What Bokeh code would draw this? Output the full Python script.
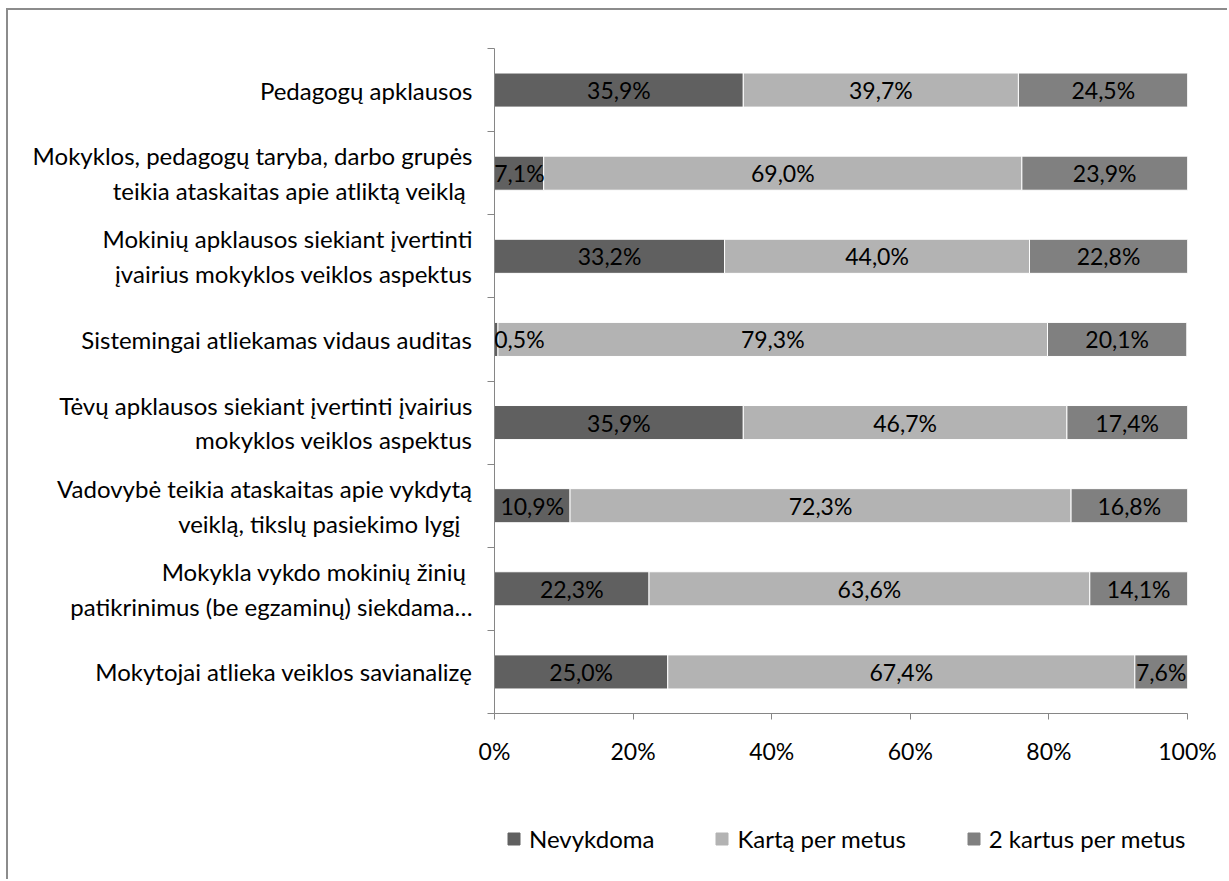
from bokeh.plotting import figure
from bokeh.models import ColumnDataSource, FixedTicker, Range1d, Legend
from bokeh.layouts import column
from bokeh.core.properties import value
from bokeh.embed import file_html
from bokeh.resources import INLINE
import numpy as np

categories = [
    "Pedagogų apklausos",
    "Mokyklos, pedagogų taryba, darbo grupės\nteikia  ataskaitas apie atliktą veiklą",
    "Mokinių apklausos siekiant įvertinti\nįvairius mokyklos veiklos aspektus",
    "Sistemingai atliekamas vidaus auditas",
    "Tėvų apklausos siekiant įvertinti įvairius\nmokyklos veiklos aspektus",
    "Vadovybė teikia ataskaitas apie vykdytą\nveiklą,  tikslų pasiekimo  lygį",
    "Mokykla  vykdo mokinių žinių\npatikrinimus (be egzaminų) siekdama…",
    "Mokytojai atlieka veiklos savianalizę",
]
series_names = ["Nevykdoma", "Kartą per metus", "2 kartus per metus"]
nevykdoma = [35.9, 7.1, 33.2, 0.5, 35.9, 10.9, 22.3, 25.0]
karta = [39.7, 69.0, 44.0, 79.3, 46.7, 72.3, 63.6, 67.4]
du_kartus = [24.5, 23.9, 22.8, 20.1, 17.4, 16.8, 14.1, 7.6]
x_ticks = [0, 20, 40, 60, 80, 100]
x_tick_labels = ["0%", "20%", "40%", "60%", "80%", "100%"]

colors = ["#606060", "#b3b3b3", "#808080"]
FONT = "Lato"
FS = "24px"
FS_NUM = "23px"

n = len(categories)
ypos = [i + 0.5 for i in range(n)]

src = ColumnDataSource(dict(y=ypos, nev=nevykdoma, kar=karta, du=du_kartus))

p = figure(width=1219, height=763, output_backend="svg", toolbar_location=None,
           x_range=Range1d(0, 100), y_range=Range1d(n, 0))
p.min_border_left = 486
p.min_border_right = 40
p.min_border_top = 38
p.min_border_bottom = 60
p.outline_line_color = None
p.xgrid.visible = False
p.ygrid.visible = False

rs = p.hbar_stack(["nev", "kar", "du"], y="y", height=0.41, color=colors,
                  line_color="white", line_width=1, source=src)

# data labels
vals = np.array([nevykdoma, karta, du_kartus])
lefts = np.vstack([np.zeros(n), np.cumsum(vals, axis=0)[:-1]])
mids = lefts + vals / 2
xs, ys, ts = [], [], []
for s in range(3):
    for i in range(n):
        xs.append(max(mids[s][i], 3.6))
        ys.append(ypos[i])
        ts.append(f"{vals[s][i]:.1f}%".replace(".", ","))
p.text(x=xs, y=ys, text=ts, text_align="center", text_baseline="middle",
       text_font=value(FONT), text_font_size=FS_NUM, text_color="black")

# axes
ax = p.xaxis[0]
ax.ticker = FixedTicker(ticks=x_ticks)
ax.major_label_overrides = {t: l for t, l in zip(x_ticks, x_tick_labels)}
ax.major_label_text_font = FONT
ax.major_label_text_font_size = FS_NUM
ax.major_label_text_color = "black"
ax.major_label_standoff = 17
ax.major_tick_in = 0
ax.major_tick_out = 6
ax.minor_tick_out = 0
ax.axis_line_color = "#868686"
ax.major_tick_line_color = "#868686"

ay = p.yaxis[0]
ay.ticker = FixedTicker(ticks=ypos, minor_ticks=list(range(n + 1)))
ay.major_label_overrides = {y: c for y, c in zip(ypos, categories)}
ay.major_label_text_font = FONT
ay.major_label_text_font_size = FS
ay.major_label_text_color = "black"
ay.major_label_text_line_height = 1.2
ay.major_label_standoff = 15
ay.major_tick_in = 0
ay.major_tick_out = 0
ay.minor_tick_in = 0
ay.minor_tick_out = 7
ay.minor_tick_line_color = "#868686"
ay.axis_line_color = "#868686"

# legend strip below the chart (its frame aligns with the chart frame)
p2 = figure(width=1219, height=106, output_backend="svg", toolbar_location=None,
            x_range=Range1d(0, 1), y_range=Range1d(0, 1),
            x_axis_location=None, y_axis_location=None)
p2.min_border = 0
p2.outline_line_color = None
p2.xgrid.visible = False
p2.ygrid.visible = False
leg_src = ColumnDataSource(dict(y=[np.nan], right=[np.nan]))
leg_rs = [p2.hbar(y="y", right="right", height=0.5, color=c, source=leg_src)
          for c in colors]

legend = Legend(items=[(name, [r]) for name, r in zip(series_names, leg_rs)],
                orientation="horizontal", location=(12, 26))
legend.label_text_font = FONT
legend.label_text_font_size = FS
legend.label_text_color = "black"
legend.glyph_width = 15
legend.glyph_height = 15
legend.label_standoff = 8
legend.spacing = 60
legend.padding = 0
legend.margin = 0
legend.border_line_color = None
legend.background_fill_alpha = 0
p2.add_layout(legend, "center")

layout = column(p, p2, spacing=0)
layout.styles = {"margin-left": "6px", "margin-top": "8px",
                 "border-top": "2px solid #8c8c8c", "border-left": "2px solid #8c8c8c"}

open("out.html", "w").write(file_html(layout, INLINE))
